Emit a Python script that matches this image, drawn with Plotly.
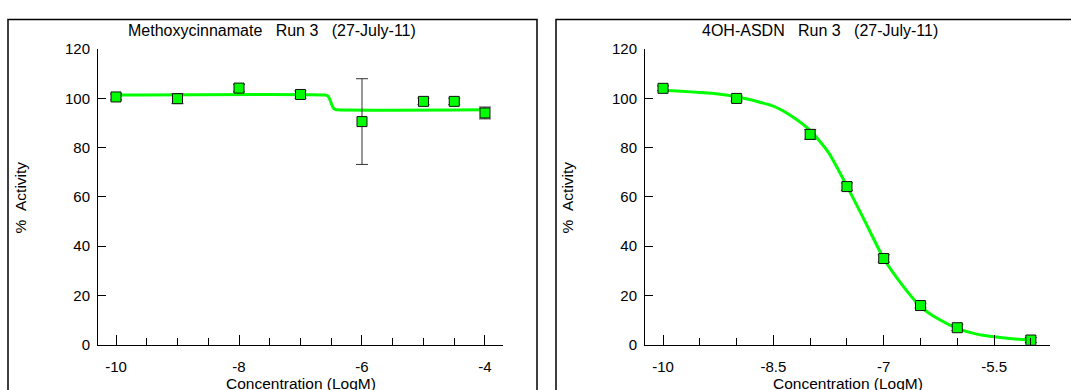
import plotly.graph_objects as go

W, H = 1071, 390

# ---------------- data: left panel (Methoxycinnamate) ----------------
left_x = [-10, -9, -8, -7, -6, -5, -4.5, -4]
left_y = [100.6, 99.9, 104.2, 101.6, 90.6, 98.8, 98.8, 94.1]
left_err = [1.2, 2.0, 1.5, 1.5, 17.4, 1.3, 1.3, 2.4]
left_fit_x = [-10, -6.6, -6.56, -6.53, -6.5, -6.47, -6.44, -6.41, -4]
left_fit_y = [101.4, 101.4, 101.1, 100.0, 98.0, 96.3, 95.6, 95.4, 95.4]
left_title = "Methoxycinnamate\u00a0\u00a0\u00a0Run 3\u00a0\u00a0\u00a0(27-July-11)"
left_xtick_vals = [-10, -8, -6, -4]
left_xtick_text = ["-10", "-8", "-6", "-4"]

# ---------------- data: right panel (4OH-ASDN) ----------------
right_x = [-10, -9, -8, -7.5, -7, -6.5, -6, -5]
right_y = [104.1, 100.0, 85.4, 64.2, 35.0, 15.9, 6.9, 1.9]
right_err = [1.0, 1.0, 2.0, 1.5, 1.5, 1.0, 1.2, 1.0]
right_fit_x = [-10, -9.75, -9.5, -9.25, -9.0, -8.75, -8.5, -8.25, -8.0, -7.75,
               -7.5, -7.25, -7.0, -6.75, -6.5, -6.25, -6.0, -5.75, -5.5, -5.25, -5.0]
right_fit_y = [103.3, 102.9, 102.4, 101.8, 100.7, 99.0, 96.9, 92.8, 87.0, 78.0,
               64.4, 49.8, 35.0, 24.3, 15.5, 10.3, 6.6, 4.4, 3.2, 2.4, 1.9]
right_title = "4OH-ASDN\u00a0\u00a0\u00a0Run 3\u00a0\u00a0\u00a0(27-July-11)"
right_xtick_vals = [-10, -8.5, -7, -5.5]
right_xtick_text = ["-10", "-8.5", "-7", "-5.5"]

y_tick_vals = [0, 20, 40, 60, 80, 100, 120]
y_tick_text = ["0", "20", "40", "60", "80", "100", "120"]
x_label = "Concentration (LogM)"
y_label = "%\u00a0\u00a0Activity"

GREEN = "#00ff00"
FONT = "Liberation Sans, Arial, sans-serif"

fig = go.Figure()

def add_panel(xs, ys, errs, fx, fy, xa, ya):
    fig.add_trace(go.Scatter(x=fx, y=fy, mode="lines", xaxis=xa, yaxis=ya,
                             line=dict(color=GREEN, width=3, shape="spline", smoothing=0.6),
                             hoverinfo="skip", showlegend=False))
    fig.add_trace(go.Scatter(x=xs, y=ys, mode="markers", xaxis=xa, yaxis=ya,
                             marker=dict(symbol="square", size=10, color=GREEN,
                                         line=dict(color="#111111", width=1)),
                             error_y=dict(type="data", array=errs, visible=True,
                                          color="#333333", thickness=1, width=6),
                             showlegend=False))

add_panel(left_x, left_y, left_err, left_fit_x, left_fit_y, "x", "y")
add_panel(right_x, right_y, right_err, right_fit_x, right_fit_y, "x2", "y2")

ydom = [(H - 351) / H, (H - 42) / H]

common_x = dict(showline=True, linecolor="black", linewidth=1, ticks="inside",
                ticklen=10, tickwidth=1, tickcolor="black", showgrid=False,
                zeroline=False, tickmode="array", ticklabelstandoff=8,
                tickfont=dict(family=FONT, size=15, color="black"),
                fixedrange=True)
common_y = dict(showline=True, linecolor="black", linewidth=1, ticks="inside",
                ticklen=8, tickwidth=1, tickcolor="black", showgrid=False,
                zeroline=False, range=[0, 120], domain=ydom, tickmode="array",
                tickvals=y_tick_vals, ticktext=y_tick_text, ticklabelstandoff=4,
                tickfont=dict(family=FONT, size=15, color="black"),
                fixedrange=True)

fig.update_layout(
    width=W, height=H,
    margin=dict(l=0, r=0, t=0, b=0),
    paper_bgcolor="white", plot_bgcolor="white",
    font=dict(family=FONT, color="black"),
    xaxis=dict(common_x, domain=[98 / W, 503 / W], range=[-10.293, -3.707],
               anchor="y", tickvals=left_xtick_vals, ticktext=left_xtick_text,
               minor=dict(tickmode="linear", tick0=-10, dtick=0.5, ticks="inside",
                          ticklen=7, tickwidth=1, tickcolor="black", showgrid=False)),
    yaxis=dict(common_y, anchor="x"),
    xaxis2=dict(common_x, domain=[645 / W, 1050 / W], range=[-10.245, -4.74],
                anchor="y2", tickvals=right_xtick_vals, ticktext=right_xtick_text,
                minor=dict(tickmode="linear", tick0=-10, dtick=0.5, ticks="inside",
                           ticklen=7, tickwidth=1, tickcolor="black", showgrid=False)),
    yaxis2=dict(common_y, anchor="x2"),
)

# panel frames
for x0, x1 in [(8, 537), (556, 1085)]:
    fig.add_shape(type="rect", xref="paper", yref="paper",
                  x0=x0 / W, x1=x1 / W, y0=-0.2, y1=(H - 11) / H,
                  line=dict(color="black", width=1.5), fillcolor="rgba(0,0,0,0)",
                  layer="below")

anns = []
for cx, title in [(272, left_title), (820, right_title)]:
    anns.append(dict(text=title, xref="paper", yref="paper", x=cx / W, y=(H - 23) / H,
                     xanchor="center", yanchor="middle", showarrow=False,
                     font=dict(family=FONT, size=16, color="black")))
for cx in [(98 + 503) / 2, (645 + 1050) / 2]:
    anns.append(dict(text=x_label, xref="paper", yref="paper", x=cx / W, y=(H - 392) / H,
                     xanchor="center", yanchor="middle", showarrow=False,
                     font=dict(family=FONT, size=15.5, color="black")))
for cx in [20, 567]:
    anns.append(dict(text=y_label, xref="paper", yref="paper", x=cx / W, y=(H - 197) / H,
                     xanchor="center", yanchor="middle", showarrow=False, textangle=-90,
                     font=dict(family=FONT, size=15.5, color="black")))
fig.update_layout(annotations=anns)

fig.write_html("out.html", config={"displayModeBar": False})
